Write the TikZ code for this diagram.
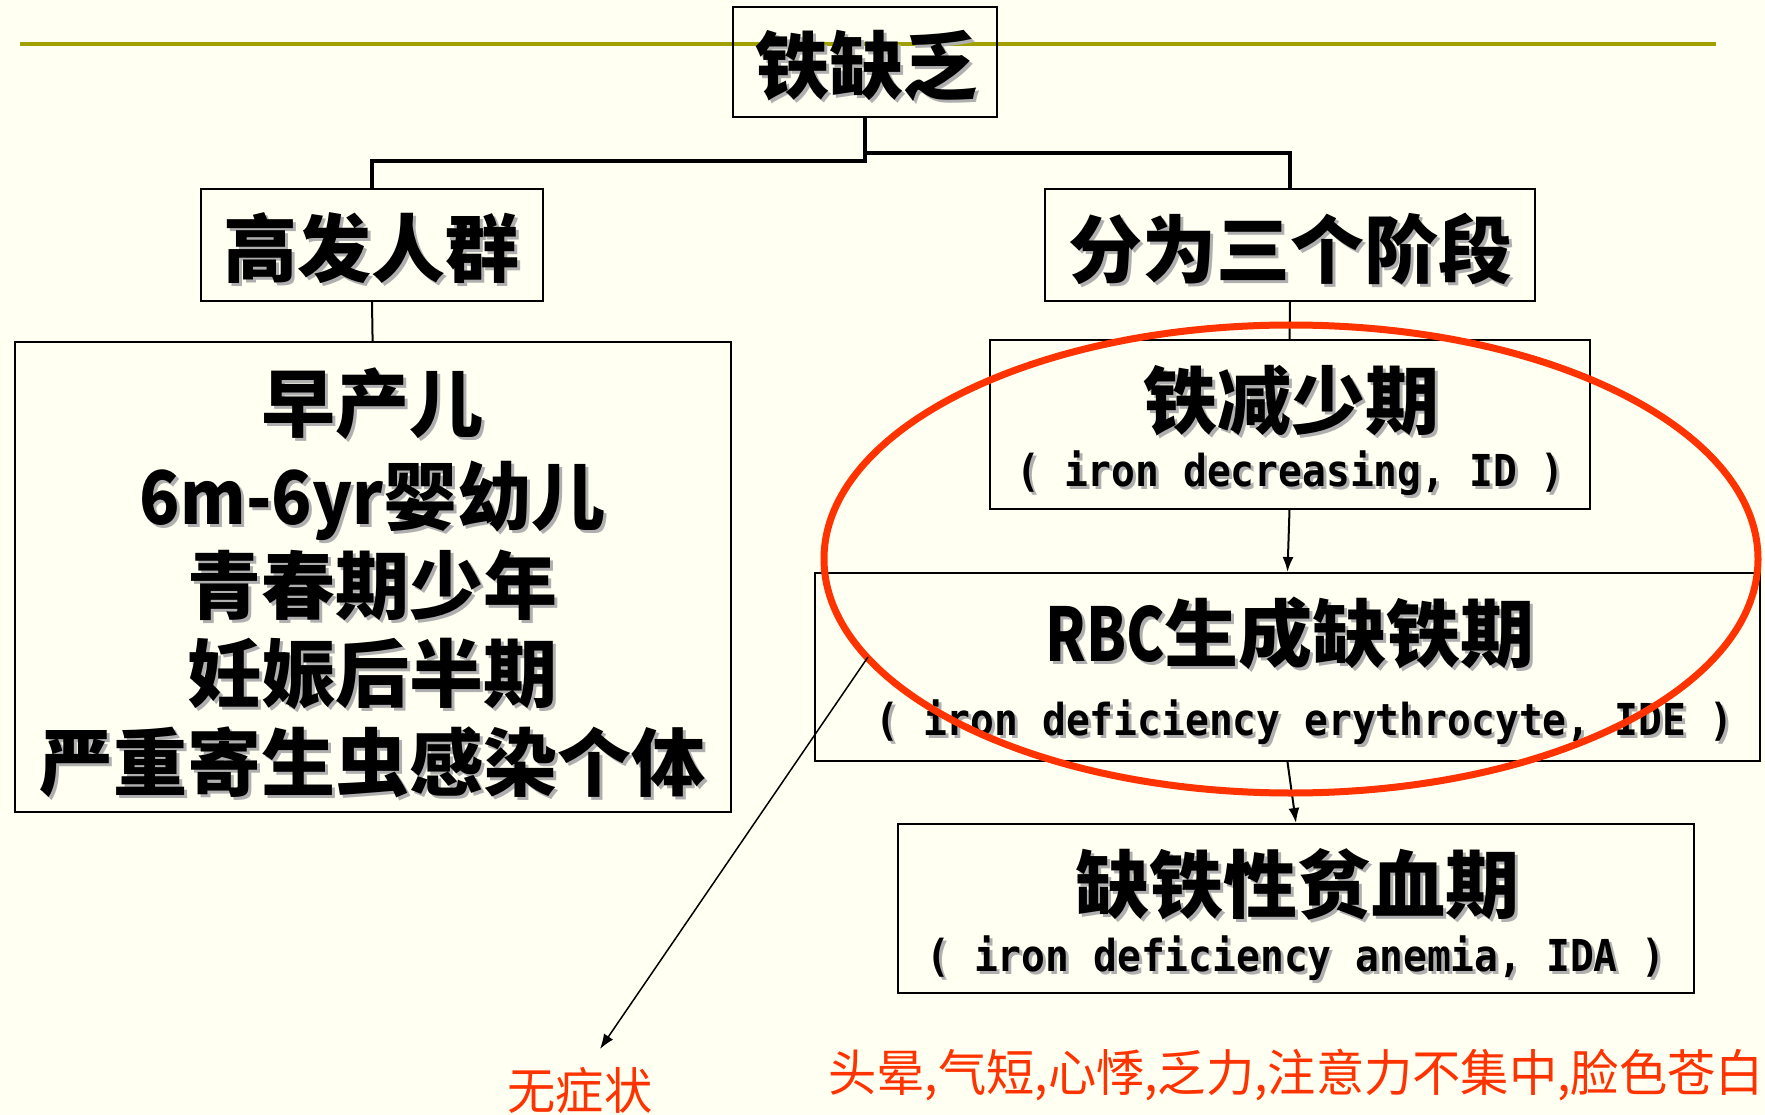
\documentclass[tikz,border=0pt]{standalone}
\usepackage{fontspec}
\usetikzlibrary{arrows.meta}
\setmainfont{Noto Sans CJK SC}
\newfontfamily\redfont[FakeStretch=0.965]{Noto Sans CJK SC}
\newfontfamily\latA[FakeStretch=0.9]{Noto Sans CJK SC}
\newfontfamily\latB[FakeStretch=0.78]{Noto Sans CJK SC}
\newfontfamily\monofont[FakeStretch=0.9]{DejaVu Sans Mono}
\definecolor{bgcol}{RGB}{255,255,242}
\definecolor{oliveline}{RGB}{160,160,0}
\definecolor{redline}{RGB}{255,51,0}
\definecolor{shadowgray}{RGB}{175,175,175}
\newcommand\shd[1]{\makebox[0pt][l]{\hspace{3pt}\raisebox{-3pt}{\textcolor{shadowgray}{#1}}}#1}
\tikzset{
  box/.style={draw=black, line width=2pt, inner sep=0pt},
  conn/.style={draw=black, line width=3.5pt},
  link/.style={draw=black, line width=2pt},
  arr/.style={draw=black, line width=2pt, -{Latex[length=15pt,width=11pt]}},
  thinarr/.style={draw=black, line width=1.5pt, -{Latex[length=15pt,width=11pt]}},
  title/.style={font=\bfseries\fontsize{74}{74}\selectfont, inner sep=0pt},
  sub/.style={font=\monofont\bfseries\fontsize{44}{44}\selectfont, inner sep=0pt},
  redtxt/.style={font=\redfont\fontsize{50}{50}\selectfont, text=redline, inner sep=0pt}
}
\begin{document}
\begin{tikzpicture}[x=1pt,y=-1pt]
\useasboundingbox (0,0) rectangle (1765,1115);
\fill[bgcol] (0,0) rectangle (1765,1115);
% olive rule
\draw[oliveline, line width=4.5pt] (20,44) -- (1716,44);
% boxes
\node[box, minimum width=264.6pt, minimum height=110.3pt] (bTop) at (865.1,62) {};
\node[box, minimum width=341.1pt, minimum height=111.5pt] (bGF) at (372,244.9) {};
\node[box, minimum width=716pt, minimum height=469.4pt] (bBig) at (372.6,576.9) {};
\node[box, minimum width=490.9pt, minimum height=111.5pt] (bFW) at (1290,244.9) {};
\node[box, minimum width=600pt, minimum height=168.8pt] (bID) at (1289.5,424.4) {};
\node[box, minimum width=945pt, minimum height=188pt] (bIDE) at (1287.5,667) {};
\node[box, minimum width=795.4pt, minimum height=169pt] (bIDA) at (1296,908.5) {};
% connectors
\draw[conn] (bTop.south) -- ++(0,43) -| (bGF.north);
\draw[conn] (bTop.south) -- ++(0,35) -| (bFW.north);
\draw[link] (bGF.south) -- (bBig.north);
\draw[link] (bFW.south) -- (bID.north);
\draw[arr] (bID.south) -- (bIDE.north);
\draw[arr] (bIDE.south) -- (bIDA.north);
% texts
\node[title] (tTop) at (866,67.5) {\shd{铁缺乏}};
\node[title] (tGF) at (371.5,250) {\shd{高发人群}};
\node[title] (tL1) at (372.6,405) {\shd{早产儿}};
\node[title] (tL2) at (372.6,502) {\shd{{\latA 6m-6yr}婴幼儿}};
\node[title] (tL3) at (372.6,587) {\shd{青春期少年}};
\node[title] (tL4) at (372.6,675) {\shd{妊娠后半期}};
\node[title] (tL5) at (372.6,764) {\shd{严重寄生虫感染个体}};
\node[title] (tFW) at (1290,250) {\shd{分为三个阶段}};
\node[title] (tID1) at (1291,402) {\shd{铁减少期}};
\node[sub] (tID2) at (1290.5,475) {\shd{( iron decreasing, ID )}};
\node[title] (tIDE1) at (1290,635) {\shd{{\latB RBC}生成缺铁期}};
\node[sub] (tIDE2) at (1304.5,724) {\shd{( iron deficiency erythrocyte, IDE )}};
\node[title] (tIDA1) at (1297,886) {\shd{缺铁性贫血期}};
\node[sub] (tIDA2) at (1296,960) {\shd{( iron deficiency anemia, IDA )}};
\node[redtxt] (tSym) at (1296,1075) {头晕,气短,心悸,乏力,注意力不集中,脸色苍白};
\node[redtxt] (tNone) at (580,1091) {无症状};
% red ellipse
\draw[redline, line width=7pt] (1291,559) ellipse [x radius=467, y radius=234];
% diagonal arrow
\coordinate (dStart) at (868,657);
\coordinate (dEnd) at (600,1049);
\draw[thinarr] (dStart) -- (dEnd);
\end{tikzpicture}
\end{document}
